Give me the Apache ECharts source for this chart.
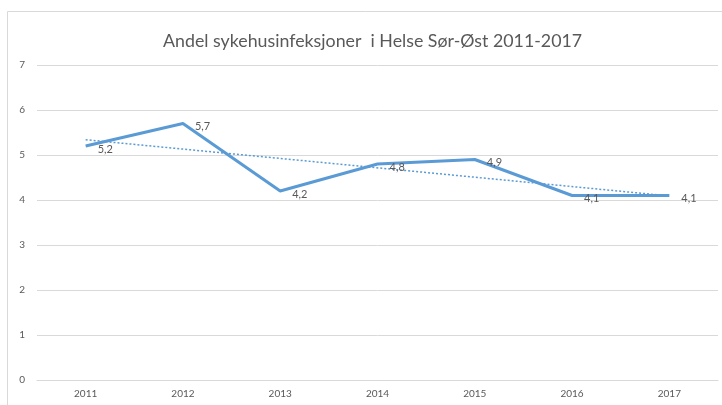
<!DOCTYPE html>
<html>
<head>
<meta charset="utf-8">
<style>
  html, body { margin: 0; padding: 0; background: #fff; }
  #chart { width: 722px; height: 405px; }
</style>
<script src="https://cdn.jsdelivr.net/npm/echarts@6/dist/echarts.min.js"></script>
</head>
<body>
<div id="chart"></div>
<script>
const years = ['2011', '2012', '2013', '2014', '2015', '2016', '2017']
const andel = [5.2, 5.7, 4.2, 4.8, 4.9, 4.1, 4.1]
// trendline: start and end only
const trend = [5.34, null, null, null, null, null, 4.09]

const chartDom = document.getElementById('chart')
const myChart = echarts.init(chartDom)

const grey = '#595959'
const blue = '#5b9bd5'

const option = {
  animation: false,
  textStyle: { fontFamily: 'Lato, "Open Sans", sans-serif' },
  title: {
    text: 'Andel sykehusinfeksjoner  i Helse Sør-Øst 2011-2017',
    left: 158,
    top: 27,
    textStyle: { color: grey, fontSize: 17.8, fontWeight: 'normal', fontFamily: 'Lato, sans-serif' },
  },
  graphic: [
    {
      type: 'rect',
      shape: { x: 7.5, y: 11.5, width: 800, height: 500 },
      style: { fill: 'none', stroke: '#d9d9d9', lineWidth: 1 },
      silent: true,
    },
  ],
  grid: { left: 37, right: 4, top: 65, bottom: 25 },
  xAxis: {
    type: 'category',
    data: years,
    axisLine: { lineStyle: { color: '#d9d9d9' } },
    axisTick: { show: false },
    axisLabel: { color: grey, fontSize: 10, margin: 9 },
  },
  yAxis: {
    type: 'value',
    min: 0,
    max: 7,
    interval: 1,
    axisLine: { show: false },
    axisTick: { show: false },
    axisLabel: { color: grey, fontSize: 10, margin: 12 },
    splitLine: { lineStyle: { color: '#d9d9d9' } },
  },
  series: [
    {
      name: 'Andel',
      type: 'line',
      data: andel,
      symbol: 'circle',
      symbolSize: 2,
      showSymbol: true,
      itemStyle: { color: 'rgba(0,0,0,0)' },
      lineStyle: { color: blue, width: 3 },
      label: {
        show: true,
        position: 'right',
        distance: 11,
        offset: [0, 3],
        color: grey,
        fontSize: 11,
        formatter: (p) => String(p.value).replace('.', ','),
      },
      z: 3,
    },
    {
      name: 'Trend',
      type: 'line',
      data: trend,
      connectNulls: true,
      symbol: 'none',
      lineStyle: { color: blue, width: 1.5, type: [2, 2] },
      z: 2,
    },
  ],
}

myChart.setOption(option)

window.addEventListener('resize', () => {
  myChart.resize()
})
</script>
</body>
</html>
